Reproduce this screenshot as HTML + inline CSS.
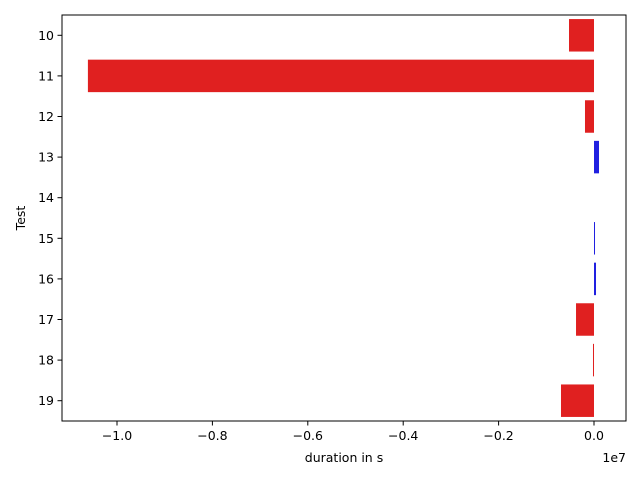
<!DOCTYPE html>
<html><head><meta charset="utf-8"><style>body{margin:0;background:#fff}svg{display:block;font-family:"DejaVu Sans","Liberation Sans",sans-serif}</style></head>
<body>
<svg id="chart" width="640" height="480"></svg>
<script>
const categories = ["10","11","12","13","14","15","16","17","18","19"];
const durations = [-524000,-10610000,-189000,105000,0,21000,42000,-377000,-21000,-692000];
const xTickValues = [-1.0,-0.8,-0.6,-0.4,-0.2,0.0];
const xTickLabels = ["\u22121.0","\u22120.8","\u22120.6","\u22120.4","\u22120.2","0.0"];

const NS="http://www.w3.org/2000/svg";
const svg=document.getElementById("chart");
const L=62,R=626,T=15,B=421;
const x0=594, pxPer=477; // px per 1e7
function xs(v){return x0+v/1e7*pxPer;}
const band=(B-T)/categories.length;
function yc(i){return T+band*(i+0.5);}
function mk(tag,attrs,parent){const e=document.createElementNS(NS,tag);for(const k in attrs)e.setAttribute(k,attrs[k]);(parent||svg).appendChild(e);return e;}

durations.forEach((v,i)=>{
  const a=xs(0),b=xs(v);
  const r=mk("rect",{x:Math.min(a,b),y:yc(i)-band*0.4,width:Math.abs(b-a),height:band*0.8,fill:v<0?"#e02020":"#2020e0"});
  
  
});
const frame=mk("rect",{x:L,y:T,width:R-L,height:B-T,fill:"none",stroke:"#000","stroke-width":1});



xTickValues.forEach((v,i)=>{
  const x=xs(v*1e7);
  mk("line",{x1:x,x2:x,y1:B,y2:B+4.5,stroke:"#000"});
  const t=mk("text",{x:x,y:B+19,"font-size":12.5,"text-anchor":"middle",fill:"#000"});
  t.textContent=xTickLabels[i];
  
  
});
categories.forEach((c,i)=>{
  const y=yc(i);
  mk("line",{x1:L-4.5,x2:L,y1:y,y2:y,stroke:"#000"});
  const t=mk("text",{x:L-8,y:y+4.5,"font-size":12.5,"text-anchor":"end",fill:"#000"});
  t.textContent=c;
  
  
});
const xl=mk("text",{x:344,y:462,"font-size":12.5,"text-anchor":"middle"});xl.textContent="duration in s";


const off=mk("text",{x:626,y:462,"font-size":12.5,"text-anchor":"end"});off.textContent="1e7";


const yl=mk("text",{x:25,y:218,"font-size":12.5,"text-anchor":"middle",transform:"rotate(-90 25 218)"});yl.textContent="Test";


</script>
</body></html>
